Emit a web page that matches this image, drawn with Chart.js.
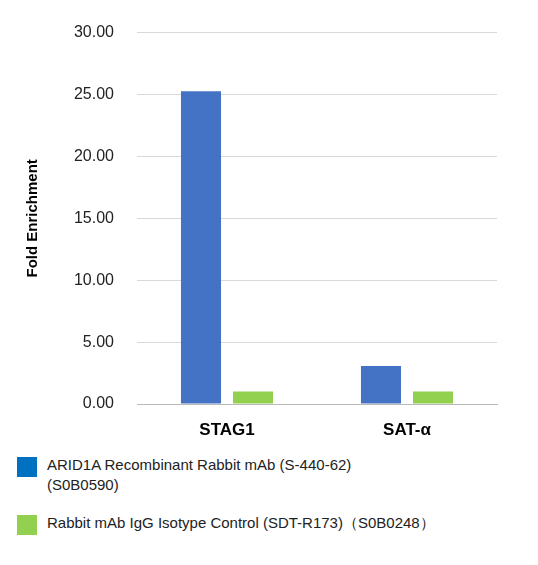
<!DOCTYPE html>
<html>
<head>
<meta charset="utf-8">
<script src="https://cdn.jsdelivr.net/npm/chart.js@4"></script>
<style>
  body { margin: 0; background: #fff; font-family: "Liberation Sans", Arial, sans-serif; }
  #wrap { position: relative; width: 538px; height: 440px; }
  .legend { position: absolute; left: 17px; font-size: 15px; color: #222; line-height: 20px; }
  .sw { position: absolute; left: 0; top: 2px; width: 20px; height: 20px; }
  .txt { margin-left: 30px; }
</style>
</head>
<body>
<div id="wrap"><canvas id="chart" width="538" height="440"></canvas></div>
<div class="legend" style="top:455px"><span class="sw" style="background:#0070c0"></span><div class="txt">ARID1A Recombinant Rabbit mAb (S-440-62)<br>(S0B0590)</div></div>
<div class="legend" style="top:513px"><span class="sw" style="background:#92d050"></span><div class="txt">Rabbit mAb IgG Isotype Control (SDT-R173)（S0B0248）</div></div>
<script>
const categories = ['STAG1', 'SAT-α'];
const aridValues = [25.26, 3.06];
const iggValues = [1.0, 1.0];
const yTicks = [0, 5, 10, 15, 20, 25, 30];

new Chart(document.getElementById('chart'), {
    type: 'bar',
    data: {
        labels: categories,
        datasets: [
            { label: 'ARID1A', data: aridValues, backgroundColor: '#4472c4' },
            { label: 'IgG', data: iggValues, backgroundColor: '#92d050' }
        ]
    },
    options: {
        responsive: false,
        animation: false,
        categoryPercentage: 0.578,
        barPercentage: 0.77,
        layout: { padding: { top: 31, right: 41, left: 20, bottom: 0 } },
        plugins: { legend: { display: false }, tooltip: { enabled: false } },
        scales: {
            x: {
                grid: { display: false },
                border: { color: '#bbb' },
                ticks: { color: '#000', font: { family: 'Liberation Sans', size: 17, weight: 'bold' }, padding: 8 },
                afterFit: s => { s.height = 36; }
            },
            y: {
                min: 0, max: 30,
                afterBuildTicks: s => { s.ticks = yTicks.map(v => ({ value: v })); },
                grid: { color: '#d9d9d9', drawTicks: false },
                border: { display: false },
                ticks: { color: '#222', font: { family: 'Liberation Sans', size: 16 }, padding: 23, callback: v => v.toFixed(2) },
                title: { display: true, text: 'Fold Enrichment', color: '#000', font: { family: 'Liberation Sans', size: 15, weight: 'bold' } },
                afterFit: s => { s.width = 117; }
            }
        }
    }
});
</script>
</body>
</html>
